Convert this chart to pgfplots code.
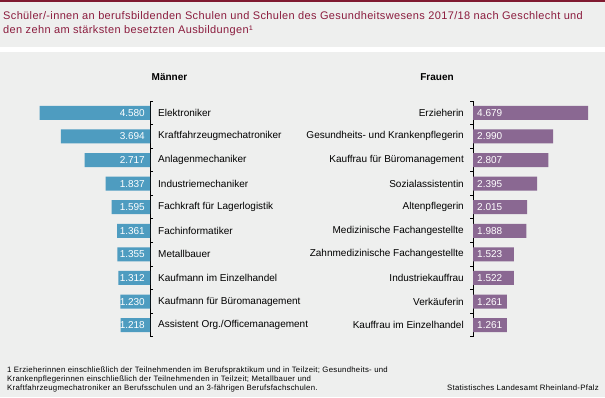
\documentclass[border=0pt]{standalone}
\usepackage{pgfplots}
\pgfplotsset{compat=1.18}
\usepackage{pgfplotstable}
\usepackage{fontspec}
\setmainfont{Liberation Sans}
\newfontfamily\spacedA[LetterSpace=3.3]{Liberation Sans}
\newfontfamily\spacedB[LetterSpace=3.5]{Liberation Sans}
\definecolor{bg}{RGB}{238,239,238}
\definecolor{maroon}{RGB}{139,28,62}
\definecolor{topbar}{RGB}{128,26,48}
\definecolor{mblue}{RGB}{78,156,192}
\definecolor{fpurple}{RGB}{138,104,146}

\pgfplotstableread[col sep=comma]{
pos,val
0,4580
1,3694
2,2717
3,1837
4,1595
5,1361
6,1355
7,1312
8,1230
9,1218
}\maenner

\pgfplotstableread[col sep=comma]{
pos,val
0,4679
1,2990
2,2807
3,2395
4,2015
5,1988
6,1523
7,1522
8,1261
9,1261
}\frauen

\pgfplotsset{
  common/.style={
    scale only axis, width=115pt, height=236pt,
    xmin=0,
    y dir=reverse, ymin=-0.5, ymax=9.5,
    axis x line=none,
    ytick={0,...,9},
    minor ytick={-0.5,0.5,...,9.5},
    major tick length=0pt,
    minor tick length=3pt,
    tick align=outside,
    axis line style={line width=1pt, black},
    minor tick style={line width=1pt, black},
    yticklabel style={font=\fontsize{10}{12}\selectfont, inner sep=0pt},
    /pgf/number format/.cd, 1000 sep={.}, assume math mode=true,
  },
}

\begin{document}
\begin{tikzpicture}
\fill[bg] (0pt,0pt) rectangle (605pt,397pt);
\fill[topbar] (0pt,395pt) rectangle (605pt,397pt);
\fill[white] (0pt,345pt) rectangle (605pt,350pt);
\node[anchor=base west, inner sep=0pt, text=maroon, font=\spacedA\fontsize{11}{13}\selectfont] at (3pt,377pt) {Schüler/-innen an berufsbildenden Schulen und Schulen des Gesundheitswesens 2017/18 nach Geschlecht und};
\node[anchor=base west, inner sep=0pt, text=maroon, font=\spacedA\fontsize{11}{13}\selectfont] at (3pt,363pt) {den zehn am stärksten besetzten Ausbildungen¹};
\node[font=\bfseries\fontsize{10}{12}\selectfont, inner sep=0pt] at (169.5pt,320pt) {Männer};
\node[font=\bfseries\fontsize{10}{12}\selectfont, inner sep=0pt] at (437pt,320pt) {Frauen};
\node[anchor=base west, inner sep=0pt, font=\spacedB\fontsize{7.8}{9}\selectfont] at (7pt,25pt) {1 Erzieherinnen einschließlich der Teilnehmenden im Berufspraktikum und in Teilzeit; Gesundheits- und};
\node[anchor=base west, inner sep=0pt, font=\spacedB\fontsize{7.8}{9}\selectfont] at (7pt,15.5pt) {Krankenpflegerinnen einschließlich der Teilnehmenden in Teilzeit; Metallbauer und};
\node[anchor=base west, inner sep=0pt, font=\spacedB\fontsize{7.8}{9}\selectfont] at (7pt,6.5pt) {Kraftfahrzeugmechatroniker an Berufsschulen und an 3-fährigen Berufsfachschulen.};
\node[anchor=base east, inner sep=0pt, font=\spacedB\fontsize{7.8}{9}\selectfont] at (599pt,6.5pt) {Statistisches Landesamt Rheinland-Pfalz};

\begin{axis}[common,
  at={(150pt,296pt)}, anchor=north east,
  x dir=reverse, xmax=4772,
  axis y line*=right,
  yticklabel style={anchor=west, xshift=8pt},
  yticklabels={Elektroniker,Kraftfahrzeugmechatroniker,Anlagenmechaniker,Industriemechaniker,Fachkraft für Lagerlogistik,Fachinformatiker,Metallbauer,Kaufmann im Einzelhandel,Kaufmann für Büromanagement,Assistent Org./Officemanagement},
]
\addplot[xbar, bar width=14pt, fill=mblue, draw=none] table[x=val, y=pos] {\maenner};
\addplot[draw=none, mark=none, nodes near coords, point meta=explicit,
  nodes near coords style={anchor=east, xshift=-5pt, text=white, font=\fontsize{10}{12}\selectfont, inner sep=0pt}]
  table[x expr=0, y=pos, meta=val] {\maenner};
\end{axis}

\begin{axis}[common,
  at={(473pt,296pt)}, anchor=north west,
  xmax=4290,
  axis y line*=left,
  yticklabel style={anchor=east, xshift=-9pt},
  yticklabels={Erzieherin,Gesundheits- und Krankenpflegerin,Kauffrau für Büromanagement,Sozialassistentin,Altenpflegerin,Medizinische Fachangestellte,Zahnmedizinische Fachangestellte,Industriekauffrau,Verkäuferin,Kauffrau im Einzelhandel},
]
\addplot[xbar, bar width=14pt, fill=fpurple, draw=none] table[x=val, y=pos] {\frauen};
\addplot[draw=none, mark=none, nodes near coords, point meta=explicit,
  nodes near coords style={anchor=west, xshift=4pt, text=white, font=\fontsize{10}{12}\selectfont, inner sep=0pt}]
  table[x expr=0, y=pos, meta=val] {\frauen};
\end{axis}
\end{tikzpicture}
\end{document}
